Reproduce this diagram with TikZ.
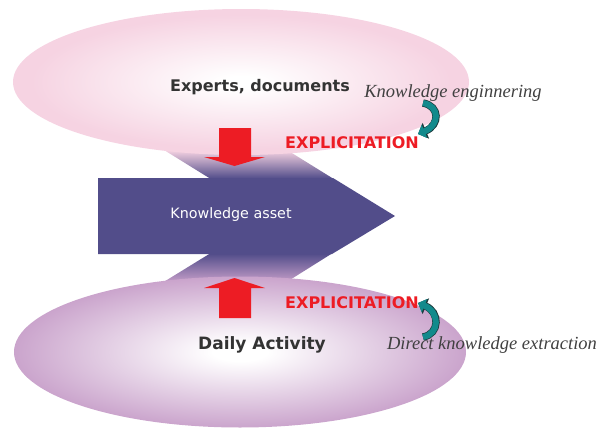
\documentclass[tikz,border=0pt]{standalone}
\usepackage{fontspec}
\setmainfont{Liberation Serif}
\newfontfamily\casual{DejaVu Sans}
\usetikzlibrary{arrows.meta,shapes.geometric}

\definecolor{pinkedge}{RGB}{246,211,226}
\definecolor{lilacedge}{RGB}{200,160,202}
\definecolor{assetblue}{RGB}{82,77,138}
\definecolor{explred}{RGB}{237,28,36}
\definecolor{tealfill}{RGB}{18,138,140}
\definecolor{tealline}{RGB}{28,58,60}

\pgfdeclareradialshading{pinkglow}{\pgfpoint{0bp}{0bp}}{color(0bp)=(white); color(2bp)=(white); color(23bp)=(pinkedge); color(50bp)=(pinkedge)}
\pgfdeclareradialshading{lilacglow}{\pgfpoint{0bp}{0bp}}{color(0bp)=(white); color(3bp)=(white); color(26bp)=(lilacedge); color(50bp)=(lilacedge)}

\begin{document}
\begin{tikzpicture}[x=1pt,y=-1pt,
  cloud/.style={ellipse,inner sep=0pt,minimum width=456pt,minimum height=146pt},
  cloudlabel/.style={font=\casual\bfseries\fontsize{16}{18}\selectfont,text=black!80},
  expllabel/.style={font=\casual\bfseries\fontsize{16}{18}\selectfont,text=explred},
  routelabel/.style={font=\itshape\fontsize{18.5}{20}\selectfont,text=black!75},
  bendarrow/.style={line width=6pt,draw=tealfill,-{Triangle[length=7pt,width=14pt]},
    preaction={draw=tealline,line width=7.4pt,-{Triangle[length=8.5pt,width=16.5pt]}}}]
\useasboundingbox (0,0) rectangle (598,429);
% shadows between the clouds and the asset
\shade[top color=pinkedge,bottom color=assetblue] (164,150) -- (287,150) -- (333,178.5) -- (210,178.5) -- cycle;
\shade[top color=assetblue,bottom color=lilacedge] (210,253.5) -- (332,253.5) -- (285,283) -- (162,283) -- cycle;
% clouds
\node[cloud,shading=pinkglow] (topcloud) at (241,82) {};
\node[cloud,shading=lilacglow,minimum height=151pt,minimum width=452pt] (bottomcloud) at (240,352) {};
% knowledge asset
\fill[assetblue] (98,178) -- (333,178) -- (395,216) -- (332,254) -- (98,254) -- cycle;
\node[font=\casual\fontsize{14.3}{16}\selectfont,text=white] (asset) at (231,215) {Knowledge asset};
% red arrows
\fill[explred] (219,128) -- (251,128) -- (251,157) -- (265,157) -- (234.5,166) -- (204,157) -- (219,157) -- cycle;
\fill[explred] (219,318) -- (251,318) -- (251,288) -- (265,288) -- (234.5,278) -- (204,288) -- (219,288) -- cycle;
% labels
\node[cloudlabel] (experts) at (260,87) {Experts, documents};
\node[cloudlabel,font=\casual\bfseries\fontsize{17}{19}\selectfont] (daily) at (262,345) {Daily Activity};
\node[expllabel] (explup) at (352,143) {EXPLICITATION};
\node[expllabel] (expldown) at (352,303) {EXPLICITATION};
\node[routelabel] (engineering) at (453,93) {Knowledge enginnering};
\node[routelabel] (extraction) at (492,345) {Direct knowledge extraction};
% teal bends
\coordinate (engfoot) at (423,103);
\coordinate (engtip) at (418,134);
\draw[bendarrow] (engfoot) .. controls (440,106) and (440,125) .. (engtip);
\coordinate (extfoot) at (423,337);
\coordinate (exttip) at (418,303);
\draw[bendarrow] (extfoot) .. controls (440,334) and (440,312) .. (exttip);
\end{tikzpicture}
\end{document}
